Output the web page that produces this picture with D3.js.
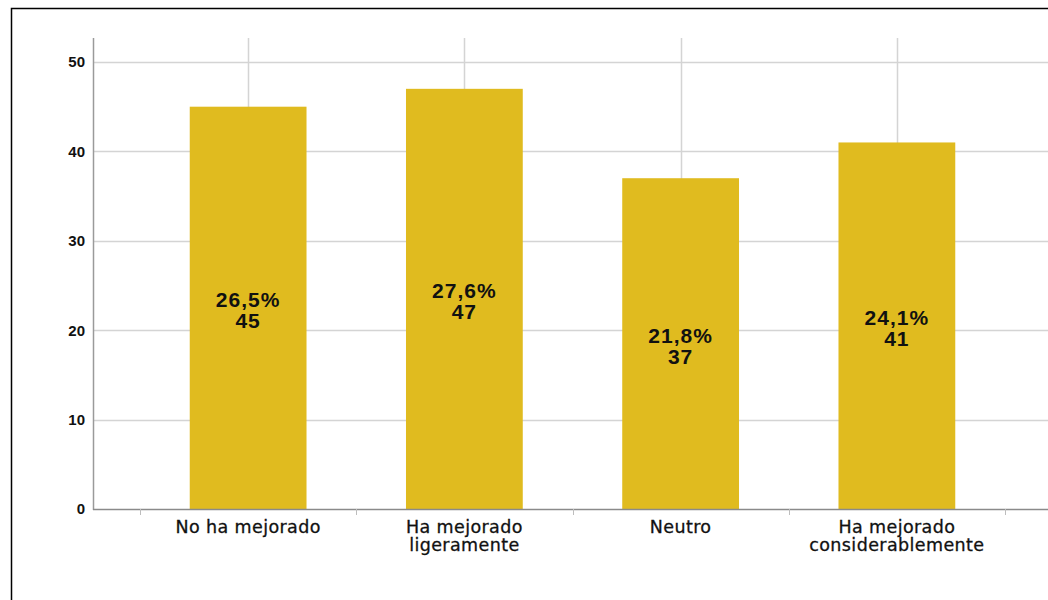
<!DOCTYPE html>
<html>
<head>
<meta charset="utf-8">
<script src="https://cdn.jsdelivr.net/npm/d3@7"></script>
<style>
  html, body { margin: 0; padding: 0; background: #fff; }
  svg { display: block; }
</style>
</head>
<body>
<svg id="chart" width="1048" height="600"></svg>
<script>
// Data
const categories = [["No ha mejorado"], ["Ha mejorado", "ligeramente"], ["Neutro"], ["Ha mejorado", "considerablemente"]];
const counts = [45, 47, 37, 41];
const percents = ["26,5%", "27,6%", "21,8%", "24,1%"];
const yTicks = [0, 10, 20, 30, 40, 50];

const svg = d3.select("#chart");
const W = 1048, H = 600;
const axisLeft = 93, plotTop = 38;

// Outer frame (left and top edges)
svg.append("path")
  .attr("d", `M11.5,${H} L11.5,8.5 L${W},8.5`)
  .attr("fill", "none").attr("stroke", "#000").attr("stroke-width", 1.5);

const keys = categories.map((c, i) => i);
const x = d3.scaleBand().domain(keys).range([140, 1005]).paddingInner(0).paddingOuter(0);
const y = d3.scaleLinear().domain([0, 50]).range([509, 62]);
const barW = x.bandwidth() * 0.54;

// Horizontal gridlines
svg.append("g").selectAll("line").data(yTicks.filter(d => d > 0)).join("line")
  .attr("x1", axisLeft).attr("x2", W)
  .attr("y1", d => Math.round(y(d)) + 0.5).attr("y2", d => Math.round(y(d)) + 0.5)
  .attr("stroke", "#d4d4d4").attr("stroke-width", 1.5);

// Vertical gridlines at category centres
svg.append("g").selectAll("line").data(keys).join("line")
  .attr("x1", d => Math.round(x(d) + x.bandwidth() / 2) + 0.5)
  .attr("x2", d => Math.round(x(d) + x.bandwidth() / 2) + 0.5)
  .attr("y1", plotTop).attr("y2", y(0))
  .attr("stroke", "#d4d4d4").attr("stroke-width", 1.5);

// Bars
svg.append("g").selectAll("rect").data(keys).join("rect")
  .attr("x", d => x(d) + (x.bandwidth() - barW) / 2)
  .attr("width", barW)
  .attr("y", d => y(counts[d]))
  .attr("height", d => y(0) - y(counts[d]))
  .attr("fill", "#e0bb1f");

// Y axis
const yAxis = svg.append("g").attr("transform", `translate(${axisLeft},0)`)
  .call(d3.axisLeft(y).tickValues(yTicks).tickSize(0).tickPadding(8));
yAxis.select(".domain").remove();
yAxis.selectAll("text")
  .attr("font-family", "Liberation Sans, Arial, sans-serif")
  .attr("font-size", 15).attr("font-weight", "bold").attr("fill", "#111");
svg.append("line")
  .attr("x1", axisLeft + 0.5).attr("x2", axisLeft + 0.5)
  .attr("y1", plotTop).attr("y2", y(0) + 1)
  .attr("stroke", "#9a9a9a").attr("stroke-width", 1.5);

// X axis line and band-boundary ticks
svg.append("line")
  .attr("x1", axisLeft).attr("x2", W)
  .attr("y1", y(0) + 0.5).attr("y2", y(0) + 0.5)
  .attr("stroke", "#8a8a8a").attr("stroke-width", 1.5);
const bounds = keys.map(d => x(d)).concat([x(keys[keys.length - 1]) + x.bandwidth()]);
svg.append("g").selectAll("line").data(bounds).join("line")
  .attr("x1", d => Math.round(d) + 0.5).attr("x2", d => Math.round(d) + 0.5)
  .attr("y1", y(0)).attr("y2", y(0) + 6)
  .attr("stroke", "#bdbdbd").attr("stroke-width", 1);

// Category labels
svg.append("g").selectAll("text").data(keys).join("text")
  .attr("x", d => x(d) + x.bandwidth() / 2)
  .attr("y", 533)
  .attr("text-anchor", "middle")
  .attr("font-family", "DejaVu Sans, sans-serif")
  .attr("font-size", 17.5).attr("letter-spacing", 0.4).attr("fill", "#111")
  .attr("stroke", "#111").attr("stroke-width", 0.3)
  .each(function(d) {
    const t = d3.select(this);
    categories[d].forEach((line, i) => {
      t.append("tspan").attr("x", x(d) + x.bandwidth() / 2).attr("dy", i === 0 ? 0 : 18).text(line);
    });
  });

// Value labels inside bars: percentage above count
const cx = d => x(d) + x.bandwidth() / 2;
const midY = d => (y(counts[d]) + y(0)) / 2;
const valueStyle = sel => sel
  .attr("text-anchor", "middle")
  .attr("font-family", "Liberation Sans, Arial, sans-serif")
  .attr("font-size", 21).attr("letter-spacing", 1).attr("font-weight", "bold").attr("fill", "#111");
svg.append("g").selectAll("text").data(keys).join("text")
  .call(valueStyle)
  .attr("x", cx).attr("y", d => midY(d) - 0.5)
  .text(d => percents[d]);
svg.append("g").selectAll("text").data(keys).join("text")
  .call(valueStyle)
  .attr("x", cx).attr("y", d => midY(d) + 20.5)
  .text(d => counts[d]);
</script>
</body>
</html>
